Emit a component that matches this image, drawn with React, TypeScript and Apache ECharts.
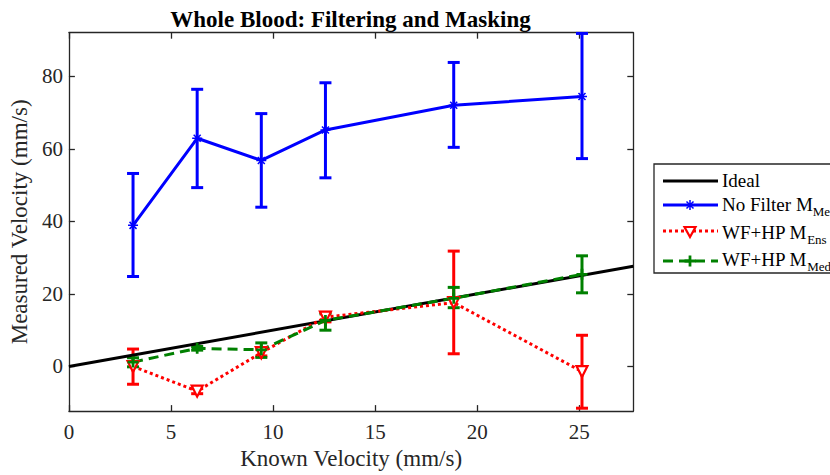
import React, { useEffect, useRef } from "react";
import * as echarts from "echarts";

const knownVelocity = [3.1416, 6.2832, 9.4248, 12.5664, 18.8496, 25.1327];
const noFilterMean = [38.9, 62.9, 56.8, 65.2, 72.0, 74.4];
const noFilterLow = [24.8, 49.3, 43.9, 52.0, 60.4, 57.3];
const noFilterHigh = [53.2, 76.4, 69.7, 78.2, 83.8, 91.8];
const ensMean = [0.0, -6.8, 3.8, 13.6, 17.6, -1.4];
const ensLow = [-4.9, -7.5, 2.9, 12.3, 3.5, -11.5];
const ensHigh = [4.8, -6.1, 4.7, 14.9, 31.8, 8.6];
const medMean = [1.2, 5.0, 4.6, 12.7, 18.8, 25.4];
const medLow = [-0.1, 4.5, 2.5, 10.0, 16.2, 20.3];
const medHigh = [2.4, 5.5, 6.5, 14.5, 21.8, 30.5];
const idealX = [0, 27.646];
const xTicks = [0, 5, 10, 15, 20, 25];
const yTicks = [0, 20, 40, 60, 80];
const X_MIN = 0;
const X_MAX = 27.646;
const Y_MIN = -12.3;
const Y_MAX = 92;

const FONT = "Liberation Serif";
const AX = "#262626";
const BLUE = "#0000ff";
const RED = "#ff0000";
const GREEN = "#008000";

const ASTERISK =
  "M-1.5,-10 L1.5,-10 L1.5,10 L-1.5,10 Z M-10,-1.5 L10,-1.5 L10,1.5 L-10,1.5 Z M-5.94,-8.06 L8.06,5.94 L5.94,8.06 L-8.06,-5.94 Z M5.94,-8.06 L8.06,-5.94 L-5.94,8.06 L-8.06,5.94 Z";
const PLUS =
  "M-1.5,-6 L1.5,-6 L1.5,-1.5 L6,-1.5 L6,1.5 L1.5,1.5 L1.5,6 L-1.5,6 L-1.5,1.5 L-6,1.5 L-6,-1.5 L-1.5,-1.5 Z";

let registered = false;
function registerShapes() {
  if (registered) return;
  registered = true;
  echarts.graphic.registerShape("asteriskShape", echarts.graphic.extendPath(ASTERISK, {}));
  echarts.graphic.registerShape("plusShape", echarts.graphic.extendPath(PLUS, {}));
}

function errData(low: number[], high: number[]) {
  return knownVelocity.map((x, i) => [x, low[i], high[i]]);
}

function errSeries(low: number[], high: number[], color: string) {
  return {
    type: "custom",
    data: errData(low, high),
    encode: { x: 0, y: [1, 2] },
    clip: false,
    renderItem: (params: any, api: any) => {
      const x = api.value(0);
      const lo = api.value(1);
      const hi = api.value(2);
      const p1 = api.coord([x, hi]);
      const p2 = api.coord([x, lo]);
      const w = 6;
      const st = { stroke: color, lineWidth: 3 };
      return {
        type: "group",
        children: [
          { type: "line", shape: { x1: p1[0], y1: p1[1], x2: p2[0], y2: p2[1] }, style: st },
          { type: "line", shape: { x1: p1[0] - w, y1: p1[1], x2: p1[0] + w, y2: p1[1] }, style: st },
          { type: "line", shape: { x1: p2[0] - w, y1: p2[1], x2: p2[0] + w, y2: p2[1] }, style: st },
        ],
      };
    },
  };
}

const axisLineStyle = { show: true, onZero: false, lineStyle: { color: AX, width: 1.3 } };

export default function App() {
  const ref = useRef<HTMLDivElement>(null);
  useEffect(() => {
    if (!ref.current) return;
    registerShapes();
    const chart = echarts.init(ref.current, undefined, { renderer: "svg" });

    const lx1 = 663;
    const lx2 = 718;
    const lmx = 690;
    const tx = 722;
    const rows = [181, 205, 231, 261];
    const textRows = [180, 204, 232, 259];
    const mainSt = { fontSize: 19, fontFamily: FONT, fill: "#000" };
    const subSt = { fontSize: 13, fontFamily: FONT, fill: "#000", padding: [14, 0, 0, 0] };

    const option: any = {
      animation: false,
      backgroundColor: "#ffffff",
      textStyle: { fontFamily: FONT },
      grid: { left: 67.3, right: 196.7, top: 32.7, bottom: 60, containLabel: false },
      xAxis: [
        {
          type: "value",
          position: "bottom",
          min: X_MIN,
          max: X_MAX,
          name: "Known Velocity (mm/s)",
          nameLocation: "middle",
          nameGap: 34,
          nameTextStyle: { fontSize: 23, fontFamily: FONT, color: AX },
          axisLine: axisLineStyle,
          axisTick: { show: true, inside: true, length: 6, customValues: xTicks, lineStyle: { color: AX, width: 1.3 } },
          axisLabel: { customValues: xTicks, fontSize: 21, fontFamily: FONT, color: AX, margin: 10 },
          splitLine: { show: false },
        },
        {
          type: "value",
          position: "top",
          min: X_MIN,
          max: X_MAX,
          axisLine: axisLineStyle,
          axisTick: { show: true, inside: true, length: 6, customValues: xTicks, lineStyle: { color: AX, width: 1.3 } },
          axisLabel: { show: false },
          splitLine: { show: false },
        },
      ],
      yAxis: [
        {
          type: "value",
          position: "left",
          min: Y_MIN,
          max: Y_MAX,
          name: "Measured Velocity (mm/s)",
          nameLocation: "middle",
          nameGap: 34,
          nameRotate: 90,
          nameTextStyle: { fontSize: 23, fontFamily: FONT, color: AX },
          axisLine: axisLineStyle,
          axisTick: { show: true, inside: true, length: 6, customValues: yTicks, lineStyle: { color: AX, width: 1.3 } },
          axisLabel: { customValues: yTicks, fontSize: 21, fontFamily: FONT, color: AX, margin: 6 },
          splitLine: { show: false },
        },
        {
          type: "value",
          position: "right",
          min: Y_MIN,
          max: Y_MAX,
          axisLine: axisLineStyle,
          axisTick: { show: true, inside: true, length: 6, customValues: yTicks, lineStyle: { color: AX, width: 1.3 } },
          axisLabel: { show: false },
          splitLine: { show: false },
        },
      ],
      series: [
        {
          name: "Ideal",
          type: "line",
          data: idealX.map((x) => [x, x]),
          symbol: "none",
          lineStyle: { color: "#000", width: 3 },
        },
        {
          name: "No Filter",
          type: "line",
          data: knownVelocity.map((x, i) => [x, noFilterMean[i]]),
          symbol: "path://" + ASTERISK,
          symbolSize: 10,
          itemStyle: { color: BLUE },
          lineStyle: { color: BLUE, width: 3 },
        },
        errSeries(noFilterLow, noFilterHigh, BLUE),
        {
          name: "WF+HP Ens",
          type: "line",
          data: knownVelocity.map((x, i) => [x, ensMean[i]]),
          symbol: "triangle",
          symbolRotate: 180,
          symbolSize: 11,
          itemStyle: { color: "#ffffff", borderColor: RED, borderWidth: 2.2 },
          lineStyle: { color: RED, width: 3, type: [3, 3] },
        },
        errSeries(ensLow, ensHigh, RED),
        {
          name: "WF+HP Med",
          type: "line",
          data: knownVelocity.map((x, i) => [x, medMean[i]]),
          symbol: "path://" + PLUS,
          symbolSize: 11,
          itemStyle: { color: GREEN },
          lineStyle: { color: GREEN, width: 3, type: [10, 6] },
        },
        errSeries(medLow, medHigh, GREEN),
      ],
      graphic: [
        {
          type: "text",
          x: 350.5,
          y: 19.5,
          style: {
            text: "Whole Blood: Filtering and Masking",
            fontSize: 23,
            fontWeight: "bold",
            fontFamily: FONT,
            fill: "#000",
            align: "center",
            verticalAlign: "middle",
          },
        },
        {
          type: "group",
          z: 100,
          children: [
            {
              type: "rect",
              shape: { x: 654, y: 164, width: 200, height: 109 },
              style: { fill: "#fff", stroke: AX, lineWidth: 1.3 },
            },
            { type: "line", shape: { x1: lx1, y1: rows[0], x2: lx2, y2: rows[0] }, style: { stroke: "#000", lineWidth: 3 } },
            {
              type: "text",
              x: tx,
              y: textRows[0],
              style: { text: "Ideal", fontSize: 19, fontFamily: FONT, fill: "#000", verticalAlign: "middle" },
            },
            { type: "line", shape: { x1: lx1, y1: rows[1], x2: lx2, y2: rows[1] }, style: { stroke: BLUE, lineWidth: 3 } },
            { type: "asteriskShape", x: lmx, y: rows[1], scaleX: 0.5, scaleY: 0.5, style: { fill: BLUE } },
            {
              type: "text",
              x: tx,
              y: textRows[1],
              style: { text: "{m|No Filter M}{s|Med}", fontFamily: FONT, verticalAlign: "middle", rich: { m: mainSt, s: subSt } },
            },
            {
              type: "line",
              shape: { x1: lx1, y1: rows[2], x2: lx2, y2: rows[2] },
              style: { stroke: RED, lineWidth: 3, lineDash: [3, 3] },
            },
            {
              type: "polygon",
              shape: { points: [[lmx - 5.5, rows[2] - 4], [lmx + 5.5, rows[2] - 4], [lmx, rows[2] + 6]] },
              style: { fill: "#fff", stroke: RED, lineWidth: 2.2 },
            },
            {
              type: "text",
              x: tx,
              y: textRows[2],
              style: { text: "{m|WF+HP M}{s|Ens}", fontFamily: FONT, verticalAlign: "middle", rich: { m: mainSt, s: subSt } },
            },
            {
              type: "line",
              shape: { x1: lx1, y1: rows[3], x2: lx2, y2: rows[3] },
              style: { stroke: GREEN, lineWidth: 3, lineDash: [10, 6] },
            },
            { type: "plusShape", x: lmx, y: rows[3], scaleX: 0.92, scaleY: 0.92, style: { fill: GREEN } },
            {
              type: "text",
              x: tx,
              y: textRows[3],
              style: { text: "{m|WF+HP M}{s|Med}", fontFamily: FONT, verticalAlign: "middle", rich: { m: mainSt, s: subSt } },
            },
          ],
        },
      ],
    };
    chart.setOption(option);
    return () => chart.dispose();
  }, []);
  return <div ref={ref} style={{ position: "absolute", left: 0, top: 0, width: 830, height: 475 }} />;
}
